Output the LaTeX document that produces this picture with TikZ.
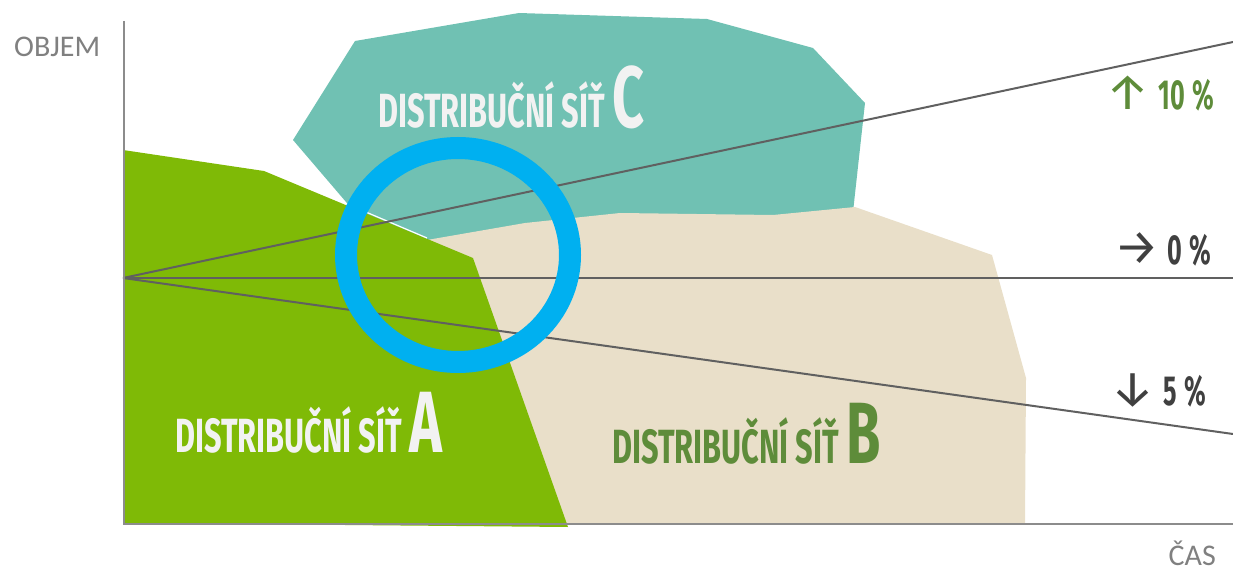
\documentclass[tikz,border=0pt]{standalone}
\usepackage{fontspec}
\setmainfont{Carlito}
\newfontfamily\cond[FakeStretch=0.64]{Fira Sans}
\newfontfamily\pctfont[FakeStretch=0.6]{Fira Sans}
\newfontfamily\arrowfont{Fira Sans}
\definecolor{tealc}{HTML}{70C1B3}
\definecolor{beigeb}{HTML}{E9DFC9}
\definecolor{greena}{HTML}{7FBA06}
\definecolor{ringblue}{HTML}{00B0F0}
\definecolor{axisgray}{HTML}{8C8C8C}
\definecolor{textgray}{HTML}{808080}
\definecolor{linegray}{HTML}{606060}
\definecolor{darkgreen}{HTML}{5E8C3A}
\definecolor{pctgray}{HTML}{404040}
\definecolor{labelwhite}{HTML}{F2F2F2}
\begin{document}
\begin{tikzpicture}[x=1pt,y=-1pt,
  axis/.style={draw=axisgray, line width=2pt},
  trend/.style={draw=linegray, line width=2pt},
  ring/.style={draw=ringblue, line width=22pt},
  netlabel/.style={inner sep=0pt, anchor=base west, font=\cond\bfseries\fontsize{48}{48}\selectfont},
  pct/.style={inner sep=0pt, anchor=base east, font=\pctfont\bfseries\fontsize{42}{42}\selectfont},
  axlabel/.style={inner sep=0pt, text=textgray, font=\fontsize{30}{30}\selectfont}]
\useasboundingbox (0,0) rectangle (1233,569);
% areas
\fill[tealc] (355,41) -- (519,13) -- (707,19) -- (813,48) -- (865,103) -- (853,212) -- (427,245) -- (370,230) -- (293,140) -- cycle;
\fill[beigeb] (427,240) -- (525,223) -- (620,213) -- (773,215) -- (855,207) -- (992,255) -- (1026,378) -- (1025,524) -- (560,524) -- (473,258) -- cycle;
\fill[greena] (123,150) -- (264,171) -- (473,258) -- (568,527) -- (123,523) -- cycle;
\draw[white, line width=1.2pt] (347,204) -- (427,238);
% labels of areas
\node[netlabel, text=labelwhite] (labc) at (378,128) {DISTRIBUČNÍ SÍŤ {\fontsize{87}{87}\selectfont C}};
\node[netlabel, text=labelwhite] (laba) at (175,452) {DISTRIBUČNÍ SÍŤ {\fontsize{87}{87}\selectfont A}};
\node[netlabel, text=darkgreen] (labb) at (612,463) {DISTRIBUČNÍ SÍŤ {\fontsize{87}{87}\selectfont B}};
% trend lines
\coordinate (O) at (123,278);
\coordinate (up) at (1233,42);
\coordinate (flat) at (1233,278);
\coordinate (down) at (1233,434);
\draw[trend] (O) -- (up);
\draw[trend] (O) -- (flat);
\draw[trend] (O) -- (down);
% axes
\coordinate (ytop) at (124,21);
\coordinate (orig) at (124,524);
\coordinate (xend) at (1233,524);
\draw[axis] (ytop) -- (orig) -- (xend);
% ring
\draw[ring] (458,255) ellipse [x radius=112, y radius=107];
% percent labels
\node[pct, text=darkgreen] (p10) at (1214,110) {{\arrowfont\mdseries\fontsize{50}{50}\selectfont ↑}\hspace{8pt}10\,\%};
\node[pct, text=pctgray] (p0) at (1211,265) {{\arrowfont\mdseries\fontsize{50}{50}\selectfont →}\hspace{8pt}0\,\%};
\node[pct, text=pctgray] (p5) at (1206,405) {{\arrowfont\mdseries\fontsize{50}{50}\selectfont ↓}\hspace{8pt}5\,\%};
% axis labels
\node[axlabel, anchor=base west] (objem) at (14,57) {OBJEM};
\node[axlabel, anchor=base east] (cas) at (1216,565) {ČAS};
\end{tikzpicture}
\end{document}
